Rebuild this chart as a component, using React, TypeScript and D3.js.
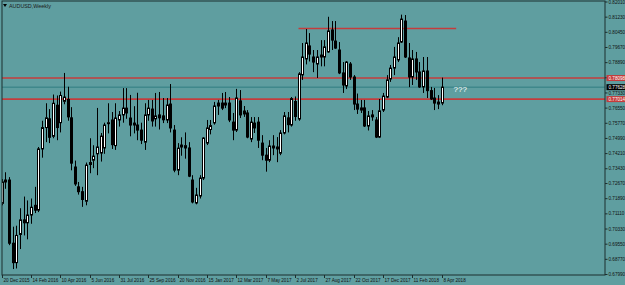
import React, { useEffect, useRef } from 'react';
import * as d3 from 'd3';

// AUDUSD weekly candles, 20 Dec 2015 .. 8 Apr 2018
const opens = [
  0.7165, 0.7275, 0.7285, 0.6960, 0.6860, 0.7005, 0.7080, 0.7065, 0.7105, 0.7155,
  0.7130, 0.7445, 0.7555, 0.7600, 0.7510, 0.7670, 0.7580, 0.7690, 0.7700, 0.7605,
  0.7352, 0.7250, 0.7225, 0.7176, 0.7365, 0.7387, 0.7420, 0.7424, 0.7450, 0.7575,
  0.7594, 0.7462, 0.7594, 0.7620, 0.7655, 0.7604, 0.7568, 0.7568, 0.7542, 0.7480,
  0.7620, 0.7650, 0.7600, 0.7620, 0.7615, 0.7594, 0.7676, 0.7542, 0.7336, 0.7455,
  0.7450, 0.7450, 0.7285, 0.7167, 0.7203, 0.7295, 0.7475, 0.7545, 0.7579, 0.7681,
  0.7681, 0.7671, 0.7681, 0.7583, 0.7542, 0.7692, 0.7640, 0.7630, 0.7496, 0.7578,
  0.7583, 0.7475, 0.7413, 0.7387, 0.7460, 0.7455, 0.7423, 0.7527, 0.7605, 0.7568,
  0.7689, 0.7599, 0.7826, 0.7908, 0.7975, 0.7918, 0.7882, 0.7918, 0.7918, 0.7944,
  0.8057, 0.8000, 0.7954, 0.7836, 0.7769, 0.7882, 0.7815, 0.7676, 0.7645, 0.7656,
  0.7563, 0.7620, 0.7594, 0.7506, 0.7645, 0.7712, 0.7805, 0.7861, 0.7903, 0.7995,
  0.8103, 0.7913, 0.7815, 0.7908, 0.7841, 0.7764, 0.7846, 0.7745, 0.7707, 0.7686,
  0.7681,
];
const highs = [
  0.7290, 0.7325, 0.7300, 0.7045, 0.7050, 0.7140, 0.7200, 0.7180, 0.7190, 0.7250,
  0.7455, 0.7590, 0.7680, 0.7650, 0.7725, 0.7720, 0.7740, 0.7836, 0.7765, 0.7660,
  0.7385, 0.7275, 0.7250, 0.7375, 0.7500, 0.7464, 0.7656, 0.7527, 0.7580, 0.7680,
  0.7635, 0.7680, 0.7640, 0.7758, 0.7758, 0.7723, 0.7665, 0.7734, 0.7580, 0.7680,
  0.7697, 0.7697, 0.7733, 0.7738, 0.7707, 0.7707, 0.7779, 0.7568, 0.7475, 0.7505,
  0.7530, 0.7480, 0.7310, 0.7245, 0.7310, 0.7505, 0.7594, 0.7594, 0.7687, 0.7697,
  0.7733, 0.7738, 0.7712, 0.7630, 0.7754, 0.7748, 0.7666, 0.7645, 0.7609, 0.7609,
  0.7609, 0.7516, 0.7450, 0.7490, 0.7516, 0.7506, 0.7542, 0.7635, 0.7635, 0.7712,
  0.7715, 0.7840, 0.7990, 0.8062, 0.8041, 0.7954, 0.7954, 0.8005, 0.8005, 0.8125,
  0.8103, 0.8103, 0.7995, 0.7892, 0.7897, 0.7892, 0.7825, 0.7730, 0.7697, 0.7697,
  0.7640, 0.7645, 0.7609, 0.7702, 0.7733, 0.7825, 0.7877, 0.7970, 0.8020, 0.8136,
  0.8134, 0.7990, 0.7954, 0.7944, 0.7892, 0.7918, 0.7918, 0.7764, 0.7759, 0.7722,
  0.7812,
];
const lows = [
  0.7155, 0.7240, 0.6950, 0.6827, 0.6830, 0.6930, 0.7000, 0.6980, 0.7060, 0.7115,
  0.7120, 0.7400, 0.7480, 0.7475, 0.7500, 0.7490, 0.7530, 0.7675, 0.7590, 0.7335,
  0.7255, 0.7210, 0.7147, 0.7155, 0.7320, 0.7346, 0.7310, 0.7380, 0.7420, 0.7525,
  0.7445, 0.7440, 0.7560, 0.7580, 0.7600, 0.7510, 0.7525, 0.7490, 0.7470, 0.7440,
  0.7590, 0.7560, 0.7560, 0.7545, 0.7578, 0.7578, 0.7530, 0.7325, 0.7310, 0.7410,
  0.7395, 0.7300, 0.7165, 0.7160, 0.7190, 0.7285, 0.7465, 0.7520, 0.7570, 0.7620,
  0.7645, 0.7655, 0.7583, 0.7490, 0.7532, 0.7604, 0.7610, 0.7500, 0.7480, 0.7527,
  0.7450, 0.7387, 0.7328, 0.7377, 0.7413, 0.7377, 0.7413, 0.7520, 0.7530, 0.7560,
  0.7590, 0.7590, 0.7800, 0.7880, 0.7895, 0.7840, 0.7810, 0.7870, 0.7870, 0.7940,
  0.7954, 0.7960, 0.7830, 0.7733, 0.7753, 0.7800, 0.7645, 0.7625, 0.7630, 0.7558,
  0.7540, 0.7590, 0.7501, 0.7501, 0.7635, 0.7707, 0.7790, 0.7825, 0.7892, 0.7990,
  0.7913, 0.7763, 0.7774, 0.7800, 0.7759, 0.7733, 0.7707, 0.7697, 0.7645, 0.7650,
  0.7670,
];
const closes = [
  0.7275, 0.7285, 0.6960, 0.6860, 0.7000, 0.7080, 0.7065, 0.7105, 0.7145, 0.7130,
  0.7445, 0.7555, 0.7605, 0.7505, 0.7680, 0.7555, 0.7720, 0.7712, 0.7610, 0.7372,
  0.7265, 0.7225, 0.7185, 0.7362, 0.7375, 0.7408, 0.7455, 0.7511, 0.7568, 0.7580,
  0.7467, 0.7604, 0.7620, 0.7655, 0.7630, 0.7568, 0.7578, 0.7542, 0.7490, 0.7620,
  0.7655, 0.7589, 0.7615, 0.7605, 0.7595, 0.7671, 0.7553, 0.7336, 0.7449, 0.7465,
  0.7462, 0.7305, 0.7172, 0.7208, 0.7295, 0.7501, 0.7553, 0.7565, 0.7666, 0.7666,
  0.7655, 0.7681, 0.7594, 0.7542, 0.7707, 0.7620, 0.7625, 0.7506, 0.7583, 0.7553,
  0.7490, 0.7413, 0.7387, 0.7460, 0.7450, 0.7445, 0.7527, 0.7615, 0.7570, 0.7704,
  0.7612, 0.7831, 0.7918, 0.7990, 0.7933, 0.7892, 0.7918, 0.7928, 0.7970, 0.8052,
  0.8005, 0.7964, 0.7836, 0.7774, 0.7892, 0.7815, 0.7676, 0.7650, 0.7656, 0.7563,
  0.7615, 0.7610, 0.7506, 0.7641, 0.7717, 0.7800, 0.7861, 0.7918, 0.7990, 0.8113,
  0.7918, 0.7815, 0.7908, 0.7841, 0.7764, 0.7846, 0.7745, 0.7702, 0.7681, 0.7676,
  0.7763,
];

// one date label every 8 weeks
const dateLabels = [
  '20 Dec 2015', '14 Feb 2016', '10 Apr 2016', '5 Jun 2016', '31 Jul 2016', '25 Sep 2016',
  '20 Nov 2016', '15 Jan 2017', '12 Mar 2017', '7 May 2017', '2 Jul 2017', '27 Aug 2017',
  '22 Oct 2017', '17 Dec 2017', '11 Feb 2018', '8 Apr 2018',
];
const priceLabels = [
  '0.82010', '0.81230', '0.80450', '0.79670', '0.78890', '0.78110', '0.77330', '0.76550',
  '0.75770', '0.74990', '0.74210', '0.73430', '0.72670', '0.71890', '0.71110', '0.70330',
  '0.69550', '0.68770', '0.67990',
];

const levels = [0.78098, 0.77014];
const resistance = 0.8065;
const resistanceSpan = [81, 124]; // bar index range
const lastPrice = 0.77628;
const note = '???';

const W = 625;
const H = 285;
const plot = { left: 2, right: 605, top: 1, bottom: 275 };
const FONT = "'Liberation Sans', Arial, sans-serif";

const App = () => {
  const ref = useRef<SVGSVGElement | null>(null);

  useEffect(() => {
    if (!ref.current) return;
    const svg = d3.select(ref.current);
    svg.selectAll('*').remove();

    const x = d3.scaleLinear().domain([0, 120]).range([1.5, 441.5]);
    const y = d3.scaleLinear().domain([0.6799, 0.8201]).range([274.5, 2]);

    svg.append('rect').attr('width', W).attr('height', H).attr('fill', '#5f9ea0');

    const clip = svg.append('defs').append('clipPath').attr('id', 'plotclip');
    clip.append('rect')
      .attr('x', plot.left).attr('y', plot.top)
      .attr('width', plot.right - plot.left).attr('height', plot.bottom - plot.top);

    const g = svg.append('g').attr('clip-path', 'url(#plotclip)');

    // horizontal levels
    g.append('line')
      .attr('x1', plot.left).attr('x2', plot.right)
      .attr('y1', y(lastPrice)).attr('y2', y(lastPrice))
      .attr('stroke', '#2f7d80').attr('stroke-width', 1);

    g.selectAll('line.level').data(levels).enter().append('line')
      .attr('class', 'level')
      .attr('x1', plot.left).attr('x2', plot.right)
      .attr('y1', d => y(d)).attr('y2', d => y(d))
      .attr('stroke', '#c43c3c').attr('stroke-width', 1.6);

    g.append('line')
      .attr('x1', x(resistanceSpan[0])).attr('x2', x(resistanceSpan[1]))
      .attr('y1', y(resistance)).attr('y2', y(resistance))
      .attr('stroke', '#c43c3c').attr('stroke-width', 1.6);

    // candles
    const idx = d3.range(closes.length);
    const candles = g.selectAll('g.candle').data(idx).enter().append('g').attr('class', 'candle');

    candles.append('line')
      .attr('x1', i => Math.round(x(i)) + 0.5).attr('x2', i => Math.round(x(i)) + 0.5)
      .attr('y1', i => y(highs[i])).attr('y2', i => y(lows[i]))
      .attr('stroke', '#000').attr('stroke-width', 1);

    candles.append('rect')
      .attr('x', i => Math.round(x(i)) - 0.5)
      .attr('y', i => y(Math.max(opens[i], closes[i])))
      .attr('width', 2)
      .attr('height', i => Math.max(0.8, Math.abs(y(opens[i]) - y(closes[i]))))
      .attr('fill', i => (closes[i] >= opens[i] ? '#fff' : '#000'))
      .attr('stroke', '#000').attr('stroke-width', 1);

    g.append('text')
      .attr('x', x(123.3)).attr('y', y(0.7738))
      .attr('fill', '#fff').attr('font-family', FONT).attr('font-size', 8)
      .text(note);

    // frame
    svg.append('rect')
      .attr('x', plot.left).attr('y', plot.top)
      .attr('width', plot.right - plot.left).attr('height', plot.bottom - plot.top)
      .attr('fill', 'none').attr('stroke', '#1c2e2e').attr('stroke-width', 1);

    // title
    svg.append('path').attr('d', 'M3,4 L7,4 L5,7 Z').attr('fill', '#000');
    svg.append('text')
      .attr('x', 9).attr('y', 7.5)
      .attr('font-family', FONT).attr('font-size', 5.4).attr('fill', '#1a1a1a')
      .text('AUDUSD,Weekly');

    // price axis
    const yAxis = svg.append('g');
    priceLabels.forEach(lbl => {
      const py = y(parseFloat(lbl));
      yAxis.append('line')
        .attr('x1', plot.right).attr('x2', plot.right + 2.5)
        .attr('y1', py).attr('y2', py)
        .attr('stroke', '#1c2e2e');
      yAxis.append('text')
        .attr('x', plot.right + 3.5).attr('y', py + 1.6)
        .attr('font-family', FONT).attr('font-size', 4.6).attr('fill', '#111')
        .text(lbl);
    });

    const tags = [
      { price: levels[0], bg: '#c43c3c' },
      { price: lastPrice, bg: '#000' },
      { price: levels[1], bg: '#c43c3c' },
    ];
    tags.forEach(t => {
      const py = y(t.price);
      svg.append('rect')
        .attr('x', plot.right + 1.5).attr('y', py - 3)
        .attr('width', W - plot.right).attr('height', 6)
        .attr('fill', t.bg);
      svg.append('text')
        .attr('x', plot.right + 3.5).attr('y', py + 1.6)
        .attr('font-family', FONT).attr('font-size', 4.6).attr('fill', '#fff')
        .text(t.price.toFixed(5));
    });

    // time axis
    const xAxis = svg.append('g');
    dateLabels.forEach((lbl, k) => {
      const px = Math.round(x(k * 8)) + 0.5;
      xAxis.append('line')
        .attr('x1', px).attr('x2', px)
        .attr('y1', plot.bottom).attr('y2', plot.bottom + 3)
        .attr('stroke', '#1c2e2e');
      xAxis.append('text')
        .attr('x', px + 1).attr('y', plot.bottom + 6.5)
        .attr('font-family', FONT).attr('font-size', 4.6).attr('fill', '#111')
        .text(lbl);
    });
  }, []);

  return (
    <div style={{ position: 'fixed', left: 0, top: 0 }}>
      <svg ref={ref} width={W} height={H} style={{ display: 'block' }} />
    </div>
  );
};

export default App;
